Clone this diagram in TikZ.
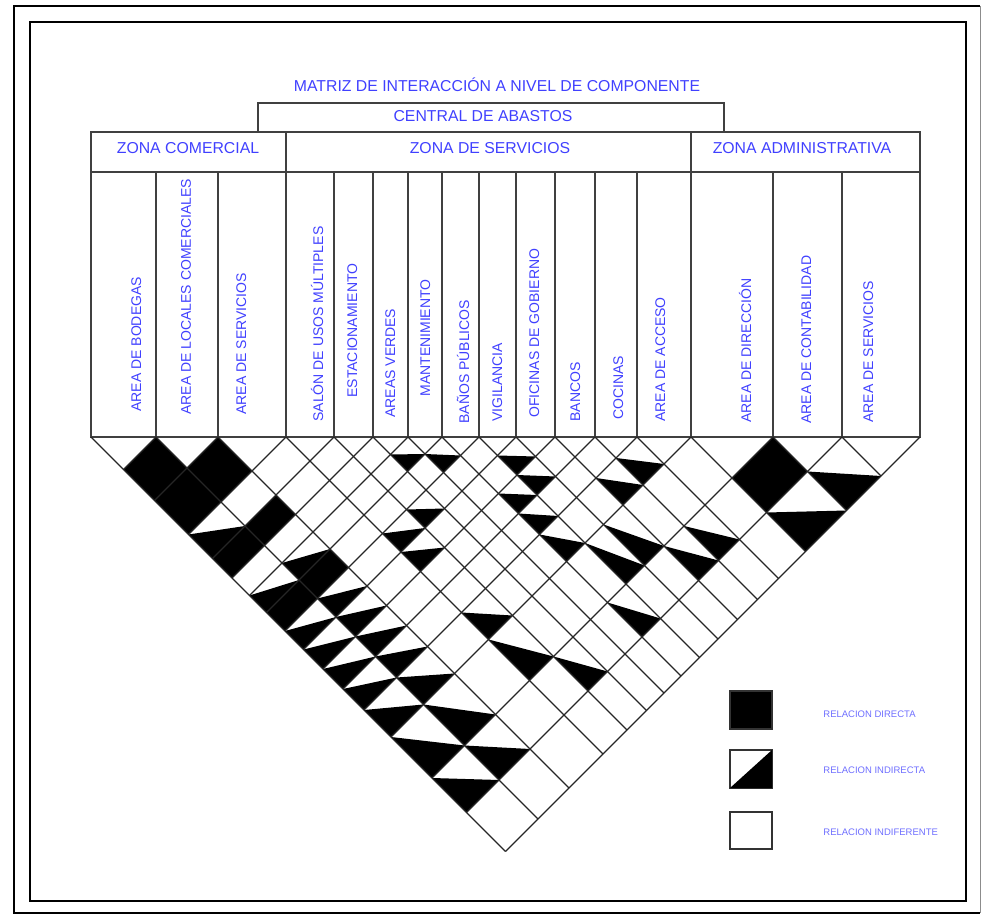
\documentclass[tikz,border=0pt]{standalone}
\usepackage{fontspec}
\setmainfont{Liberation Sans}
\usetikzlibrary{positioning,calc}
\definecolor{cadazul}{RGB}{64,64,255}
\definecolor{cadclaro}{RGB}{110,110,255}
\tikzset{
  marco/.style={line width=1.1pt,black},
  linea/.style={line width=0.6pt,black!75},
  rejilla/.style={line width=0.55pt,black!85},
  relacion/.style={fill=black},
  titulo/.style={font=\fontsize{7.9}{9}\selectfont,text=cadazul,inner sep=0pt,anchor=base},
  zona/.style={titulo},
  espacio/.style={font=\fontsize{7}{8}\selectfont,text=cadazul,inner sep=0pt,
                  rotate=90,anchor=base west},
  leyenda/.style={font=\fontsize{4.75}{6}\selectfont,text=cadclaro,inner sep=0pt,anchor=west},
  cuadro/.style={line width=0.6pt,black!80},
}
% column boundaries (x) along the lower edge of the header
\def\bx{{91,156,218,286,334,373,408,442,479,516,555,595,637,691,773,842,920}}
% crossing of the diagonal leaving boundary #2 and the one leaving boundary #3
\newcommand\cruce[3]{%
  \pgfmathsetmacro\xa{\bx[#2]}%
  \pgfmathsetmacro\xc{\bx[#3]}%
  \coordinate (#1) at ({(\xa+\xc)/2},{437+(\xc-\xa)/2});}
\newcommand\celdallena[2]{%
  \cruce{T}{#1+1}{#2}\cruce{L}{#1}{#2}\cruce{R}{#1+1}{#2+1}\cruce{D}{#1}{#2+1}%
  \fill[relacion] (T) -- (R) -- (D) -- (L) -- cycle;}
\newcommand\celdamedia[2]{%
  \cruce{L}{#1}{#2}\cruce{R}{#1+1}{#2+1}\cruce{D}{#1}{#2+1}%
  \fill[relacion] (L) -- (R) -- (D) -- cycle;}

\begin{document}
\begin{tikzpicture}[x=0.5pt,y=-0.5pt]
  \useasboundingbox (0,0) rectangle (982,915);
  % frames
  \draw[marco] (980,6) -- (14,6) -- (14,913) -- (980,913);
  \draw[line width=0.5pt,black!45] (980,6) -- (980,913);
  \draw[marco] (30,22) rectangle (966,901);

  % header
  \node[titulo] (titulo) at (497,91.5) {MATRIZ DE INTERACCIÓN A NIVEL DE COMPONENTE};
  \draw[linea] (258,132) |- (724,103) -- (724,132);
  \node[zona] (central) at (483,122) {CENTRAL DE ABASTOS};
  \draw[linea] (91,132) rectangle (920,437);
  \draw[linea] (91,172) -- (920,172);
  \draw[linea] (286,132) -- (286,172);
  \draw[linea] (691,132) -- (691,172);
  \node[zona] (zcom) at (188,154) {ZONA COMERCIAL};
  \node[zona] (zser) at (490,154) {ZONA DE SERVICIOS};
  \node[zona] (zadm) at (802,154) {ZONA ADMINISTRATIVA};
  \foreach \k in {1,...,15} {
    \pgfmathsetmacro\xk{\bx[\k]}
    \draw[linea] (\xk,172) -- (\xk,437);
  }

  % column names
  \foreach \x/\y/\nombre [count=\n] in {
      141/412/AREA DE BODEGAS,
      191/415/AREA DE LOCALES COMERCIALES,
      246/415/AREA DE SERVICIOS,
      323/422/SALÓN DE USOS MÚLTIPLES,
      357/398/ESTACIONAMIENTO,
      395/418/AREAS VERDES,
      430/397/MANTENIMIENTO,
      469/424/BAÑOS PÚBLICOS,
      502/422/VIGILANCIA,
      539/418/OFICINAS DE GOBIERNO,
      580/422/BANCOS,
      623/420/COCINAS,
      665/422/AREA DE ACCESO,
      751/423/AREA DE DIRECCIÓN,
      811/424/AREA DE CONTABILIDAD,
      873/423/AREA DE SERVICIOS}
    \node[espacio] (col\n) at (\x,\y) {\nombre};

  % relations
  \foreach \i/\j in {0/1,0/2,0/4,0/7,1/2,1/4,1/7,13/14}
    \celdallena{\i}{\j};
  \foreach \i/\j in {0/3,0/6,0/8,0/9,0/10,0/11,0/12,0/13,0/14,
                     1/6,1/8,1/9,1/10,1/11,1/12,1/13,1/14,
                     3/8,3/9,3/12,3/13,4/8,4/14,5/6,6/7,
                     7/10,7/11,7/12,7/14,8/9,8/10,8/13,9/13,
                     10/12,10/14,11/12,11/14,13/15,14/15}
    \celdamedia{\i}{\j};

  % diagonal grid
  \foreach \k in {0,...,16} {
    \pgfmathsetmacro\xk{\bx[\k]}
    \coordinate (b\k) at (\xk,437);
    \cruce{izq}{0}{\k}
    \cruce{der}{\k}{16}
    \draw[rejilla] (izq) -- (b\k) -- (der);
  }

  % legend
  \draw[cuadro,fill=black] (730,691) rectangle (772,729);
  \draw[cuadro] (730,750) rectangle (772,788);
  \fill[relacion] (730,788) -- (772,750) -- (772,788) -- cycle;
  \draw[cuadro] (730,812) rectangle (772,849);
  \node[leyenda] (ldir) at (823,714) {RELACION DIRECTA};
  \node[leyenda] (lind) at (823,770) {RELACION INDIRECTA};
  \node[leyenda] (ldif) at (823,832) {RELACION INDIFERENTE};
\end{tikzpicture}
\end{document}
